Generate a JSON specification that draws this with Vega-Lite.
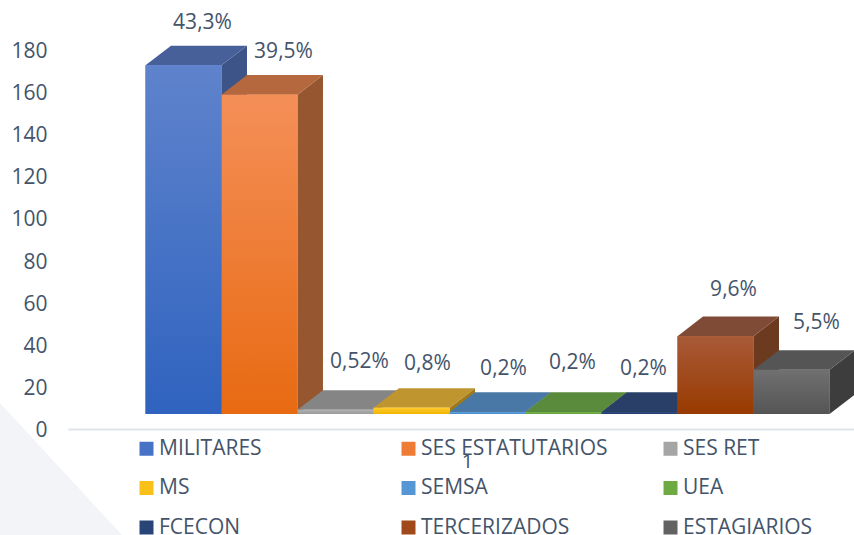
{
"$schema":"https://vega.github.io/schema/vega-lite/v6.json",
"autosize":"none",
"width":786,"height":379,
"padding":{"left":68,"top":50,"right":0,"bottom":106},
"background":"white",
"config":{"view":{"stroke":null},"font":"Open Sans"},
"params":[{"name":"grad","expr":"{'MILITARES':['#5f83cc','#2f63bf'],'SES ESTATUTARIOS':['#f48f58','#e86a12'],'SES RET':['#b0b0b0','#9a9a9a'],'MS':['#ffcb30','#f0b400'],'SEMSA':['#6aa6dc','#3f88cc'],'UEA':['#7ab54f','#62a03a'],'FCECON':['#34517f','#1e3a70'],'TERCERIZADOS':['#a85a38','#983a00'],'ESTAGIARIOS':['#707070','#555555']}"}],
"datasets":{"bars":[
{"nome":"SEMSA","pos":5,"valor":1,"rotulo":"0,2%"},
{"nome":"UEA","pos":6,"valor":1,"rotulo":"0,2%"},
{"nome":"FCECON","pos":7,"valor":1,"rotulo":"0,2%"},
{"nome":"SES RET","pos":3,"valor":2,"rotulo":"0,52%"},
{"nome":"MS","pos":4,"valor":3,"rotulo":"0,8%"},
{"nome":"ESTAGIARIOS","pos":9,"valor":21,"rotulo":"5,5%"},
{"nome":"TERCERIZADOS","pos":8,"valor":37,"rotulo":"9,6%"},
{"nome":"SES ESTATUTARIOS","pos":2,"valor":151.7,"rotulo":"39,5%"},
{"nome":"MILITARES","pos":1,"valor":165.6,"rotulo":"43,3%"}
]},
"data":{"name":"bars"},
"transform":[
{"calculate":"datum.valor+7.1","as":"topo"},
{"calculate":"datum.pos+1","as":"fim"}
],
"encoding":{
"x":{"type":"quantitative","scale":{"domain":[-0.02,10.322],"nice":false,"zero":false}},
"y":{"type":"quantitative","scale":{"domain":[0,180],"nice":false}}
},
"layer":[
{
"data":{"values":[{"a":-0.915,"b":12.35,"c":-50.35},{"a":0.69,"b":-50.35,"c":-50.35}]},
"transform":[],
"mark":{"type":"area","color":"#f3f4f8","clip":false},
"encoding":{
"x":{"field":"a","type":"quantitative","axis":{"title":null,"values":[5.23],"labelExpr":"'1'","grid":false,"ticks":false,"domain":true,"domainColor":"#dfe3ea","domainWidth":2,"labelFontSize":20,"labelColor":"#44546a","labelPadding":22,"labelFont":"Open Sans","zindex":1}},
"y":{"field":"b","type":"quantitative","axis":{"title":null,"values":[0,20,40,60,80,100,120,140,160,180],"grid":false,"ticks":false,"domain":false,"labelFontSize":21,"labelColor":"#44546a","labelPadding":21,"labelOffset":1.5,"labelFont":"Open Sans","zindex":1}},
"y2":{"field":"c"}}
},
{
"transform":[
{"calculate":"[0,1]","as":"c"},{"flatten":["c"]},
{"calculate":"datum.fim+datum.c*0.335","as":"xs"},
{"calculate":"datum.topo+datum.c*9.3","as":"yt"},
{"calculate":"7.1+datum.c*9.3","as":"yb"}
],
"mark":{"type":"area","line":false,"interpolate":"linear"},
"encoding":{
"x":{"field":"xs","type":"quantitative"},
"y":{"field":"yt","type":"quantitative"},
"y2":{"field":"yb"},
"detail":{"field":"nome"},
"color":{"field":"nome","type":"nominal","legend":null,"scale":{
"domain":["MILITARES","SES ESTATUTARIOS","SES RET","MS","SEMSA","UEA","FCECON","TERCERIZADOS","ESTAGIARIOS"],
"range":["#3d5488","#96562f","#787878","#a07a18","#3f6a94","#4c7a33","#22355c","#6c3a1e","#3d3d3d"]}}
}
},
{
"transform":[
{"calculate":"[0,1]","as":"c"},{"flatten":["c"]},
{"calculate":"datum.pos+datum.c*0.335","as":"xa"},
{"calculate":"datum.fim+datum.c*0.335","as":"xb"},
{"calculate":"datum.topo+datum.c*9.3","as":"yt"}
],
"mark":{"type":"area","orient":"horizontal","interpolate":"linear"},
"encoding":{
"y":{"field":"yt","type":"quantitative"},
"x":{"field":"xa","type":"quantitative"},
"x2":{"field":"xb"},
"detail":{"field":"nome"},
"color":{"field":"nome","type":"nominal","legend":null,"scale":{
"domain":["MILITARES","SES ESTATUTARIOS","SES RET","MS","SEMSA","UEA","FCECON","TERCERIZADOS","ESTAGIARIOS"],
"range":["#47609a","#b5673e","#858585","#bf9530","#4a78a6","#5a8a3c","#2a3f68","#7f4a36","#555555"]}}
}
},
{
"transform":[{"calculate":"7.1","as":"base"}],
"mark":{"type":"rect"},
"encoding":{
"x":{"field":"pos","type":"quantitative"},
"x2":{"field":"fim"},
"y":{"field":"topo","type":"quantitative"},
"y2":{"field":"base"},
"color":{"field":"nome","type":"nominal","title":null,
"scale":{
"domain":["MILITARES","MS","FCECON","SES ESTATUTARIOS","SEMSA","TERCERIZADOS","SES RET","UEA","ESTAGIARIOS"],
"range":["#4773c6","#f8c018","#294578","#ee7c35","#5597d4","#a04a1c","#a5a5a5","#6eaa44","#626262"]},
"legend":{"orient":"none","legendX":68,"legendY":388,"columns":3,"title":null,"symbolType":"square","symbolSize":196,"symbolStrokeWidth":0,"labelFontSize":21,"labelColor":"#44546a","labelOffset":2,"labelLimit":300,"rowPadding":17.5,"columnPadding":52,"gridAlign":"all","padding":0,"labelFont":"Open Sans"}
}
}
},
{
"transform":[{"calculate":"7.1","as":"base"}],
"mark":{"type":"rect","fill":{"expr":"{gradient:'linear',x1:0,y1:0,x2:0,y2:1,stops:[{offset:0,color:grad[datum.nome][0]},{offset:1,color:grad[datum.nome][1]}]}"}},
"encoding":{
"x":{"field":"pos","type":"quantitative"},
"x2":{"field":"fim"},
"y":{"field":"topo","type":"quantitative"},
"y2":{"field":"base"}
}
},
{
"mark":{"type":"text","fontSize":21,"color":"#44546a","font":"Open Sans",
"dx":{"expr":"[19,24,24,16,16,9,4,18,25][datum.pos-1]"},
"dy":{"expr":"[-42,-43,-48,-44,-43,-49,-43,-46,-47][datum.pos-1]"}},
"transform":[{"calculate":"datum.pos+0.5","as":"meio"}],
"encoding":{
"x":{"field":"meio","type":"quantitative"},
"y":{"field":"topo","type":"quantitative"},
"text":{"field":"rotulo"}
}
}
],
"resolve":{"scale":{"color":"independent"}}
}
